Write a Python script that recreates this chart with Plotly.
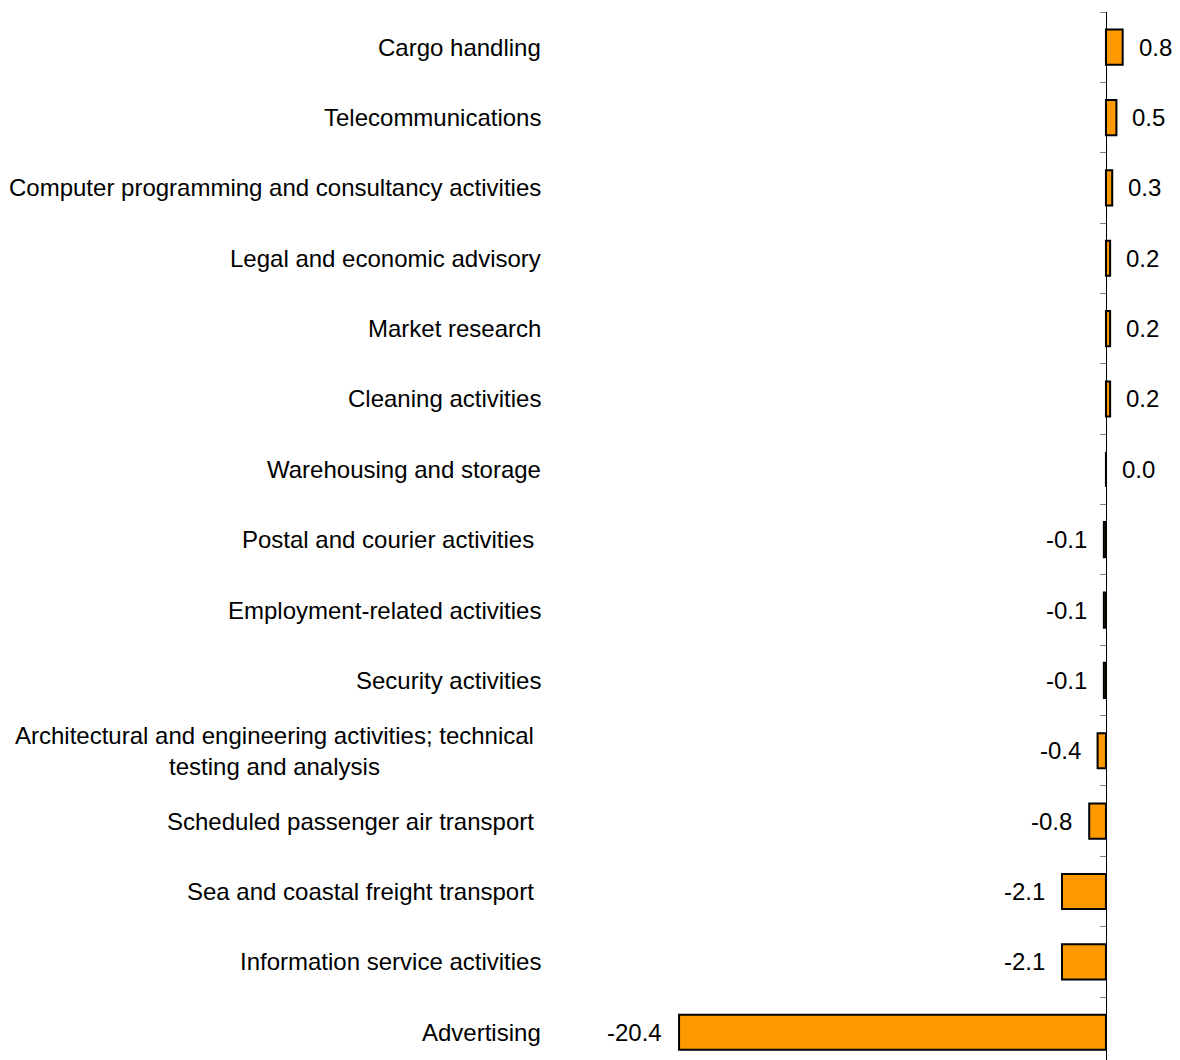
import plotly.graph_objects as go

categories = [
    "Cargo handling",
    "Telecommunications",
    "Computer programming and consultancy activities",
    "Legal and economic advisory",
    "Market research",
    "Cleaning activities",
    "Warehousing and storage",
    "Postal and courier activities\u00a0",
    "Employment-related activities",
    "Security activities",
    "Architectural and engineering activities; technical\u00a0<br>testing and analysis\u00a0",
    "Scheduled passenger air transport\u00a0",
    "Sea and coastal freight transport\u00a0",
    "Information service activities",
    "Advertising",
]
values = [0.8, 0.5, 0.3, 0.2, 0.2, 0.2, 0.0, -0.1, -0.1, -0.1, -0.4, -0.8, -2.1, -2.1, -20.4]

X_MIN, X_MAX = -26.09, 3.30
# page has an 8px body margin: figure is offset by 8px
W, H = 1172, 1052
ML, MR, MT, MB = 552, 5, 4, 0
FONT = "Liberation Sans, Arial, sans-serif"
FS = 24

fig = go.Figure()
fig.add_trace(go.Bar(
    x=values, y=categories, orientation="h", width=0.5,
    marker=dict(color="#ff9900", line=dict(color="black", width=2)),
    hoverinfo="x+y",
))

annotations = []
for c, v in zip(categories, values):
    annotations.append(dict(
        x=-17 / (W - ML - MR), xref="paper", y=c, yref="y",
        text=c, showarrow=False, xanchor="right", yanchor="middle", align="center",
        font=dict(family=FONT, size=FS, color="black"),
    ))
    annotations.append(dict(
        x=v, xref="x", y=c, yref="y", text=f"{v:.1f}", showarrow=False,
        xanchor="left" if v >= 0 else "right", yanchor="middle",
        xshift=14 if v >= 0 else -15,
        font=dict(family=FONT, size=FS, color="black"),
    ))

plot_h = H - MT - MB
cat_px = 70.36
fig.update_layout(
    width=W, height=H,
    margin=dict(l=ML, r=MR, t=MT, b=MB, pad=0),
    paper_bgcolor="white", plot_bgcolor="white",
    showlegend=False,
    annotations=annotations,
    xaxis=dict(range=[X_MIN, X_MAX], showgrid=False, zeroline=False,
               showticklabels=False, ticks="", showline=False, fixedrange=True),
    yaxis=dict(
        type="category", categoryorder="array", categoryarray=categories,
        range=[-0.5 + plot_h / cat_px, -0.5],
        anchor="free", position=(0 - X_MIN) / (X_MAX - X_MIN),
        showline=True, linecolor="black", linewidth=1,
        ticks="outside", tickson="boundaries", ticklen=6, tickcolor="#808080", tickwidth=1,
        showticklabels=False, showgrid=False, zeroline=False, fixedrange=True,
    ),
)

fig.write_html("out.html")
